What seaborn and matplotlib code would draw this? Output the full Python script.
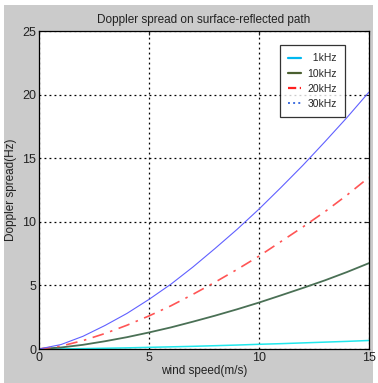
import matplotlib
matplotlib.use("Agg")
import matplotlib.pyplot as plt
import seaborn as sns
import pandas as pd
from matplotlib.lines import Line2D
from matplotlib.patches import Rectangle

wind_speed = [0, 1, 2, 3, 4, 5, 6, 7, 8, 9, 10, 11, 12, 13, 14, 15]
spread_1k = [0, 0.01, 0.03, 0.06, 0.09, 0.13, 0.17, 0.21, 0.26, 0.31, 0.37, 0.42, 0.48, 0.54, 0.6, 0.67]
spread_10k = [0, 0.12, 0.33, 0.61, 0.93, 1.3, 1.7, 2.15, 2.62, 3.12, 3.65, 4.22, 4.8, 5.4, 6.05, 6.75]
spread_20k = [0, 0.23, 0.66, 1.22, 1.87, 2.6, 3.4, 4.3, 5.25, 6.25, 7.3, 8.45, 9.6, 10.8, 12.1, 13.5]
spread_30k = [0, 0.35, 1.0, 1.85, 2.8, 3.9, 5.1, 6.45, 7.9, 9.4, 11.0, 12.7, 14.45, 16.3, 18.2, 20.2]
labels = ["1kHz", "10kHz", "20kHz", "30kHz"]
x_ticks = [0, 5, 10, 15]
y_ticks = [0, 5, 10, 15, 20, 25]

sns.set_style("white")
plt.rcParams['font.family'] = ['Liberation Sans', 'DejaVu Sans']

fig = plt.figure(figsize=(3.78, 3.83), dpi=100)
fig.patch.set_facecolor("white")
W, H = 378, 383
bg = Rectangle((4 / W, 0), 369 / W, 378 / H, transform=fig.transFigure,
               facecolor="#cbcbcb", edgecolor="none", zorder=-10)
fig.add_artist(bg)

ax = fig.add_axes([39 / W, 1 - 349 / H, (369 - 39) / W, (349 - 31) / H])
ax.set_facecolor("white")

df = pd.DataFrame({"x": wind_speed, "1kHz": spread_1k, "10kHz": spread_10k,
                   "20kHz": spread_20k, "30kHz": spread_30k})

colors = ["#22e8ec", "#4a7055", "#ff5555", "#6060ff"]
styles = ["-", "-", (0, (7, 4, 1.5, 4)), "-"]
widths = [1.1, 1.3, 1.2, 0.8]
for lab, c, ls, lw in zip(labels, colors, styles, widths):
    sns.lineplot(data=df, x="x", y=lab, ax=ax, color=c, linestyle=ls, linewidth=lw)

ax.set_xlim(0, 15)
ax.set_ylim(0, 25)
ax.set_xticks(x_ticks)
ax.set_yticks(y_ticks)
ax.grid(True, color="black", linestyle=(0, (1.5, 2.5)), linewidth=0.9)
ax.tick_params(direction="in", length=3, labelsize=9, colors="#222222",
               top=True, right=True, pad=2)
for s in ax.spines.values():
    s.set_color("black")
    s.set_linewidth(0.9)

ax.set_title("Doppler spread on surface-reflected path", fontsize=8.5, pad=6,
             color="#222222")
ax.set_xlabel("wind speed(m/s)", fontsize=8.5, labelpad=1, color="#222222")
ax.set_ylabel("Doppler spread(Hz)", fontsize=8.5, labelpad=4, color="#222222")

handles = [Line2D([], [], color="#00b8f0", lw=1.6, ls="-"),
           Line2D([], [], color="#4a6030", lw=1.6, ls="-"),
           Line2D([], [], color="#ff2020", lw=1.6, ls="--"),
           Line2D([], [], color="#4070e0", lw=1.4, ls=":")]
padded = ["  " + labels[0]] + labels[1:]
leg = ax.legend(handles, padded, loc="upper right",
                bbox_to_anchor=((345 - 39) / 330, (349 - 45) / 318),
                fontsize=7.5, frameon=True, fancybox=False, handlelength=1.2,
                labelspacing=0.5, borderpad=0.8, handletextpad=0.6,
                borderaxespad=0)
leg.get_frame().set_edgecolor("black")
leg.get_frame().set_linewidth(0.9)

fig.savefig("out.png", dpi=100, facecolor=fig.get_facecolor())
